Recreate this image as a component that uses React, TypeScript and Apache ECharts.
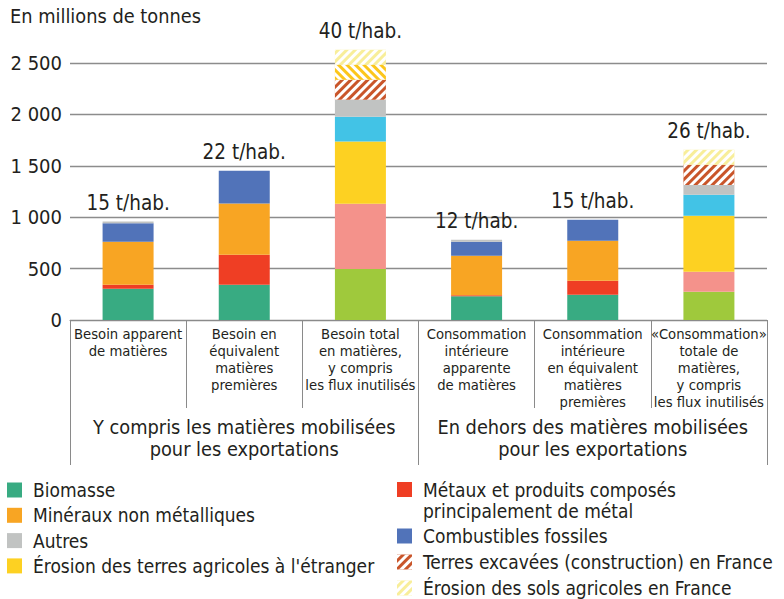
import React, { useEffect, useRef } from "react";
import * as echarts from "echarts";

const categories = [
  "Besoin apparent\nde matières",
  "Besoin en\néquivalent\nmatières\npremières",
  "Besoin total\nen matières,\ny compris\nles flux inutilisés",
  "Consommation\nintérieure\napparente\nde matières",
  "Consommation\nintérieure\nen équivalent\nmatières\npremières",
  "«Consommation»\ntotale de\nmatières,\ny compris\nles flux inutilisés",
];
const groups = [
  "Y compris les matières mobilisées\npour les exportations",
  "En dehors des matières mobilisées\npour les exportations",
];
const perCapita = ["15 t/hab.", "22 t/hab.", "40 t/hab.", "12 t/hab.", "15 t/hab.", "26 t/hab."];
const yTicks = [0, 500, 1000, 1500, 2000, 2500];

const biomasse = [304, 343, "-", 230, 246, "-"];
const biomasseTotale = ["-", "-", 496, "-", "-", 275];
const metaux = [40, 292, "-", 10, 136, "-"];
const metauxTotal = ["-", "-", 635, "-", "-", 195];
const mineraux = [418, 499, "-", 385, 389, "-"];
const erosionEtranger = ["-", "-", 606, "-", "-", 545];
const combustibles = [178, 318, "-", 137, 205, "-"];
const combustiblesTotal = ["-", "-", 240, "-", "-", 203];
const autres = [19, "-", 166, 19, "-", 95];
const terresExcavees = ["-", "-", 194, "-", "-", 198];
const erosionAutre = ["-", "-", 146, "-", "-", "-"];
const erosionFrance = ["-", "-", 146, "-", "-", 146];
const totals = [0, 0, 0, 0, 0, 0];

const FONT = "'DejaVu Sans Condensed', 'Liberation Sans Narrow', 'Open Sans', sans-serif";
const TXT = "#231f20";

const N_BIO = "Biomasse";
const N_MIN = "Minéraux non métalliques";
const N_AUT = "Autres";
const N_ERE = "Érosion des terres agricoles à l'étranger";
const N_MET = "Métaux et produits composés principalement de métal";
const N_COM = "Combustibles fossiles";
const N_TER = "Terres excavées (construction) en France";
const N_ERF = "Érosion des sols agricoles en France";

function hatch(rot: number) {
  return {
    symbol: "rect",
    symbolSize: 1,
    dashArrayX: [1, 0],
    dashArrayY: [3, 3],
    rotation: rot,
    color: "#ffffff",
  };
}

export default function App() {
  const ref = useRef<HTMLDivElement>(null);
  useEffect(() => {
    if (!ref.current) return;
    const chart = echarts.init(ref.current, null, { renderer: "svg" });
    const bar = (name: string, data: any[], color: string, extra: any = {}) => ({
      name,
      type: "bar",
      stack: "s",
      data,
      barWidth: 51,
      clip: false,
      itemStyle: { color, ...(extra.itemStyle || {}) },
      emphasis: { disabled: true },
    });
    const legendCommon = {
      orient: "vertical",
      icon: "rect",
      itemWidth: 15,
      itemHeight: 15,
      padding: 0,
      height: 200,
      textStyle: { fontFamily: FONT, fontSize: 19, color: TXT, lineHeight: 19, padding: [0, 0, 0, 6] },
      selectedMode: false,
    };
    chart.setOption({
      animation: false,
      textStyle: { fontFamily: FONT },
      grid: { left: 70, right: 17, top: 63, bottom: 599 - 320, containLabel: false },
      graphic: [
        {
          type: "text",
          left: 10,
          top: 6,
          style: { text: "En millions de tonnes", fontSize: 19.8, fill: TXT, fontFamily: FONT },
        },
        {
          type: "text",
          left: 423,
          top: 501,
          style: { text: "principalement de métal", fontSize: 19, fill: TXT, fontFamily: FONT },
        },
      ],
      legend: [
        { ...legendCommon, left: 7, top: 480.5, itemGap: 6.3, data: [N_BIO, N_MIN, N_AUT, N_ERE] },
        {
          ...legendCommon,
          left: 397,
          top: 480,
          data: [N_MET],
          formatter: () => "Métaux et produits composés",
        },
        { ...legendCommon, left: 397, top: 526.5, itemGap: 7, data: [N_COM, N_TER, N_ERF] },
      ],
      xAxis: [
        {
          type: "category",
          data: categories,
          axisLine: { show: true, lineStyle: { color: "#8a8a8a", width: 1 } },
          axisTick: { show: true, length: 88, interval: 0, lineStyle: { color: "#8a8a8a" } },
          axisLabel: { interval: 0, fontSize: 14.7, lineHeight: 17, color: TXT, margin: 5, fontFamily: FONT },
          splitLine: { show: false },
        },
        {
          type: "category",
          data: groups,
          position: "bottom",
          axisLine: { show: false },
          axisTick: { show: true, length: 145, interval: 0, lineStyle: { color: "#8a8a8a" } },
          axisLabel: { interval: 0, fontSize: 19.8, lineHeight: 22, color: TXT, margin: 96, fontFamily: FONT },
          splitLine: { show: false },
        },
      ],
      yAxis: {
        type: "value",
        min: 0,
        max: 2500,
        interval: 500,
        axisLine: { show: false },
        axisTick: { show: false },
        axisLabel: {
          fontSize: 20,
          color: TXT,
          margin: 8,
          fontFamily: FONT,
          formatter: (v: number) => (yTicks.includes(v) ? String(v).replace(/\B(?=(\d{3})+(?!\d))/g, " ") : ""),
        },
        splitLine: { lineStyle: { color: "#8c8c8c", width: 1.3 } },
      },
      series: [
        bar(N_BIO, biomasse, "#38ab82"),
        bar("Biomasse, y compris flux inutilisés", biomasseTotale, "#9fc93c"),
        bar(N_MET, metaux, "#ef3e24"),
        bar("Métaux, y compris flux inutilisés", metauxTotal, "#f4928b"),
        bar(N_MIN, mineraux, "#f8a523"),
        bar(N_ERE, erosionEtranger, "#fdd122"),
        bar(N_COM, combustibles, "#5173b9"),
        bar("Combustibles fossiles, y compris flux inutilisés", combustiblesTotal, "#42c3e6"),
        bar(N_AUT, autres, "#c1c3c2"),
        bar(N_TER, terresExcavees, "#c9552a", { itemStyle: { decal: hatch(-Math.PI / 4) } }),
        bar("Érosion (autre)", erosionAutre, "#fcc61b", { itemStyle: { decal: hatch(Math.PI / 4) } }),
        bar(N_ERF, erosionFrance, "#f8ee9a", { itemStyle: { decal: hatch(-Math.PI / 4) } }),
        {
          name: "total",
          type: "bar",
          stack: "s",
          data: totals,
          barWidth: 51,
          clip: false,
          itemStyle: { color: "transparent" },
          label: {
            show: true,
            position: "top",
            distance: 8,
            fontSize: 20.5,
            color: TXT,
            fontFamily: FONT,
            formatter: (p: any) => perCapita[p.dataIndex],
          },
        },
      ],
    });
    return () => chart.dispose();
  }, []);
  return (
    <div
      ref={ref}
      style={{ position: "fixed", left: 0, top: 0, width: 784, height: 599, background: "#fff" }}
    />
  );
}
